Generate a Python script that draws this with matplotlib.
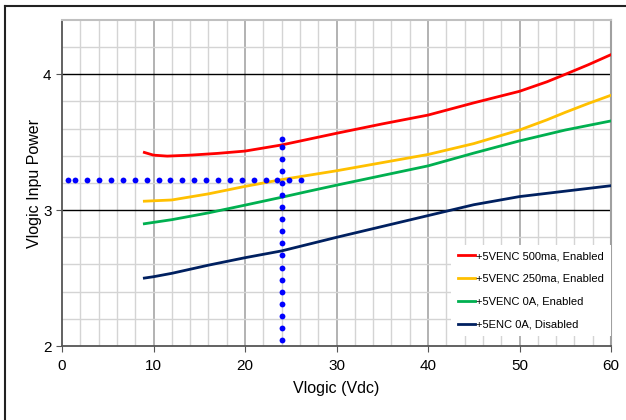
import matplotlib
matplotlib.use("Agg")
import matplotlib.pyplot as plt
from matplotlib.lines import Line2D
import numpy as np

plt.rcParams['font.family'] = ['Liberation Sans', 'DejaVu Sans']

# Data
x_red = [9, 10, 11.5, 14, 17, 20, 24, 30, 35, 40, 45, 50, 53, 55, 57.5, 60]
y_red = [3.425, 3.405, 3.398, 3.405, 3.418, 3.435, 3.48, 3.566, 3.635, 3.70, 3.79, 3.875, 3.945, 4.0, 4.07, 4.145]

x_yel = [9, 12, 16, 20, 24, 30, 35, 40, 45, 50, 53, 55, 57.5, 60]
y_yel = [3.066, 3.075, 3.12, 3.175, 3.225, 3.29, 3.35, 3.41, 3.49, 3.59, 3.665, 3.72, 3.785, 3.846]

x_grn = [9, 12, 16, 20, 24, 27, 30, 35, 40, 45, 50, 55, 60]
y_grn = [2.90, 2.93, 2.98, 3.037, 3.095, 3.14, 3.184, 3.255, 3.326, 3.42, 3.51, 3.59, 3.657]

x_nav = [9, 10, 12, 16, 20, 24, 30, 35, 40, 45, 50, 55, 60]
y_nav = [2.50, 2.51, 2.535, 2.595, 2.65, 2.70, 2.80, 2.88, 2.96, 3.04, 3.10, 3.14, 3.18]

h_dots_x = [0.69, 1.46, 2.77, 4.04, 5.36, 6.63, 7.94, 9.25, 10.56, 11.84, 13.15, 14.46,
            15.74, 17.05, 18.36, 19.64, 20.95, 22.26, 23.53, 24.84, 26.12]
h_dots_y = [3.225] * len(h_dots_x)
v_dots_y = [3.522, 3.465, 3.375, 3.287, 3.199, 3.110, 3.022, 2.932, 2.843, 2.755, 2.667,
            2.576, 2.488, 2.399, 2.311, 2.223, 2.132, 2.044]
v_dots_x = [24.0] * len(v_dots_y)

labels = ['+5VENC 500ma, Enabled', '+5VENC 250ma, Enabled', '+5VENC 0A, Enabled', '+5ENC 0A, Disabled']
colors = ['#ff0000', '#ffc000', '#00b050', '#002060']

fig = plt.figure(figsize=(6.26, 4.20), dpi=100)
ax = fig.add_axes([62/626, (420-346)/420, (611-62)/626, (346-20)/420])

# grid
for xv in np.arange(2, 60, 2):
    c = '#a6a6a6' if xv % 10 == 0 else '#d4d4d4'
    ax.axvline(xv, color=c, lw=1.2 if xv % 10 == 0 else 1.0, zorder=0)
for yv in np.arange(2.2, 4.4, 0.2):
    if abs(yv - 3) < 1e-6 or abs(yv - 4) < 1e-6:
        continue
    ax.axhline(yv, color='#d4d4d4', lw=1.0, zorder=0)
ax.axhline(3, color='#000000', lw=1.0, zorder=0.5)
ax.axhline(4, color='#000000', lw=1.0, zorder=0.5)

lines = []
for xs, ys, c, lab in zip([x_red, x_yel, x_grn, x_nav], [y_red, y_yel, y_grn, y_nav], colors, labels):
    ln, = ax.plot(xs, ys, color=c, lw=2.0, label=lab, zorder=3)
    lines.append(ln)

ax.plot(h_dots_x, h_dots_y, 'o', color='#0000ff', ms=4.2, mec='none', zorder=4)
ax.plot(v_dots_x, v_dots_y, 'o', color='#0000ff', ms=4.2, mec='none', zorder=4)

ax.set_xlim(0, 60)
ax.set_ylim(2, 4.4)
ax.set_xticks([0, 10, 20, 30, 40, 50, 60])
ax.set_yticks([2, 3, 4])
ax.tick_params(axis='both', labelsize=11, length=4, direction='out', color='#555555')
ax.tick_params(axis='x', pad=5)

for s in ['left', 'bottom']:
    ax.spines[s].set_color('#555555')
    ax.spines[s].set_linewidth(1.3)
ax.spines['top'].set_color('#c0c0c0')
ax.spines['right'].set_color('#a0a0a0')
ax.spines['top'].set_linewidth(1.5)
ax.spines['right'].set_linewidth(1.5)

ax.set_xlabel('Vlogic (Vdc)', fontsize=11.5, labelpad=6)
ax.set_ylabel('Vlogic Inpu Power', fontsize=11.5, labelpad=1)

leg = ax.legend(handles=lines, loc='lower right', bbox_to_anchor=(1.0, 0.03),
                fontsize=8, frameon=True, fancybox=False, handlelength=1.6,
                handletextpad=0.1, labelspacing=1.15, borderpad=0.6, borderaxespad=0)
leg.get_frame().set_edgecolor('none')
leg.get_frame().set_facecolor('white')
leg.get_frame().set_alpha(1)
leg.set_zorder(5)

# outer border
fig.add_artist(Line2D([5/626, 5/626], [0, 1 - 6/420], transform=fig.transFigure, color='#222222', lw=1.5))
fig.add_artist(Line2D([5/626, 1], [1 - 6/420, 1 - 6/420], transform=fig.transFigure, color='#222222', lw=1.5))

fig.savefig('out.png', dpi=100)
